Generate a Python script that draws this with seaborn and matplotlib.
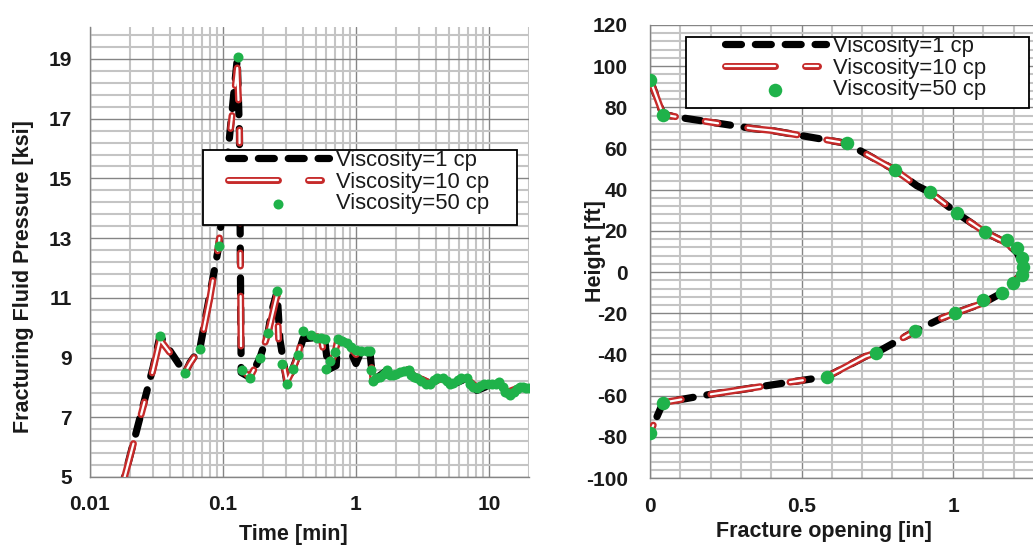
import numpy as np
import pandas as pd
import seaborn as sns
import matplotlib
matplotlib.use("Agg")
import matplotlib.pyplot as plt
import matplotlib.patheffects as pe
from matplotlib.patches import Rectangle
from matplotlib.ticker import FixedLocator, FixedFormatter, LogLocator, NullFormatter

# ---------------- data: left panel (pressure vs time) ----------------
time_1cp = [0.017, 0.0298, 0.0336, 0.0518, 0.0565, 0.067, 0.0798, 0.093, 0.113, 0.128,
            0.133, 0.137, 0.16, 0.19, 0.218, 0.233, 0.255, 0.268, 0.303, 0.335, 0.366,
            0.40, 0.51, 0.58, 0.62, 0.71, 0.73, 0.85, 1.0, 1.1, 1.27, 1.34, 1.71, 1.9,
            2.5, 2.7, 3.6, 4.5, 5.3, 6.8, 8.1, 10.5, 12.3, 13.9, 17.0, 20.0]
press_1cp = [4.5, 8.67, 9.73, 8.47, 8.83, 9.3, 11.13, 12.73, 16.57, 19.0,
             16.5, 8.5, 8.33, 9.0, 9.83, 10.57, 11.2, 9.6, 8.13, 8.63, 9.07,
             9.63, 9.67, 9.63, 8.6, 8.73, 9.63, 9.5, 8.8, 9.23, 9.23, 8.23, 8.57, 8.4,
             8.6, 8.4, 8.13, 8.33, 8.1, 8.3, 7.9, 8.1, 8.1, 7.8, 8.0, 7.97]

time_10cp = [0.017, 0.0298, 0.0336, 0.0518, 0.0565, 0.067, 0.0798, 0.093, 0.113, 0.128,
             0.133, 0.137, 0.16, 0.19, 0.218, 0.24, 0.255, 0.262, 0.303, 0.335, 0.366,
             0.40, 0.51, 0.55, 0.60, 0.69, 0.73, 0.85, 1.0, 1.1, 1.27, 1.34, 1.71, 1.9,
             2.5, 2.7, 3.6, 4.5, 5.3, 6.8, 8.1, 10.5, 12.3, 13.9, 17.0, 20.0]
press_10cp = [4.5, 8.6, 9.6, 8.5, 8.8, 9.3, 11.0, 12.8, 16.5, 18.7,
              16.8, 8.6, 8.35, 9.0, 9.8, 10.6, 11.1, 9.6, 8.2, 8.6, 9.05,
              9.85, 9.7, 9.6, 8.6, 9.1, 9.6, 9.5, 9.1, 9.2, 9.2, 8.3, 8.55, 8.4,
              8.6, 8.4, 8.15, 8.3, 8.1, 8.3, 8.0, 8.1, 8.1, 7.85, 8.0, 7.97]

time_50cp = [0.0336, 0.0518, 0.067, 0.093, 0.13, 0.14, 0.16, 0.19, 0.218, 0.255, 0.277,
             0.303, 0.335, 0.366, 0.40, 0.46, 0.51, 0.55, 0.58, 0.60, 0.64, 0.69, 0.73,
             0.78, 0.85, 0.92, 1.0, 1.1, 1.2, 1.27, 1.30, 1.34, 1.42, 1.52, 1.62, 1.71,
             1.8, 1.9, 2.0, 2.15, 2.3, 2.5, 2.6, 2.75, 2.9, 3.1, 3.35, 3.6, 3.85, 4.1,
             4.5, 4.8, 5.1, 5.4, 5.8, 6.2, 6.8, 7.2, 7.6, 8.1, 8.6, 9.2, 9.8, 10.5,
             11.2, 12.0, 12.7, 13.3, 13.9, 14.5, 15.3, 16.2, 17.0, 18.0, 19.0, 20.0]
press_50cp = [9.73, 8.47, 9.3, 12.73, 19.07, 8.57, 8.33, 9.0, 9.83, 11.23, 8.8,
              8.13, 8.63, 9.07, 9.9, 9.75, 9.67, 9.65, 9.63, 8.63, 8.9, 9.17, 9.63,
              9.55, 9.5, 9.35, 9.25, 9.23, 9.23, 9.23, 8.6, 8.23, 8.3, 8.35, 8.45, 8.57,
              8.4, 8.4, 8.45, 8.5, 8.55, 8.6, 8.4, 8.35, 8.3, 8.2, 8.13, 8.13, 8.25, 8.3,
              8.33, 8.2, 8.1, 8.15, 8.25, 8.3, 8.3, 8.1, 8.0, 7.97, 8.05, 8.1, 8.1, 8.1,
              8.1, 8.17, 8.0, 7.85, 7.8, 7.75, 7.85, 7.95, 8.0, 8.0, 7.97, 7.97]

time_ticks = [0.01, 0.1, 1, 10]
time_tick_labels = ["0.01", "0.1", "1", "10"]
press_ticks = [5, 7, 9, 11, 13, 15, 17, 19]
press_tick_labels = ["5", "7", "9", "11", "13", "15", "17", "19"]

# ---------------- data: right panel (height vs opening) ----------------
open_1cp = [0.0, 0.043, 0.12, 0.34, 0.40, 0.65, 0.81, 0.88, 0.924, 1.013, 1.105, 1.178,
            1.21, 1.228, 1.228, 1.198, 1.16, 1.1, 1.007, 0.964, 0.875, 0.746, 0.71,
            0.584, 0.45, 0.19, 0.043, 0.0]
height_1cp = [93.5, 76.5, 74.6, 69.7, 68.8, 62.5, 49.4, 42.0, 38.7, 28.6, 19.4, 14.0,
              9.7, 4.4, -0.5, -5.3, -10.2, -15.0, -19.9, -22.3, -28.6, -39.2, -41.0,
              -50.8, -53.7, -59.6, -63.4, -78.0]
open_10cp = list(open_1cp)
height_10cp = list(height_1cp)
open_50cp = [0.0, 0.043, 0.65, 0.81, 0.924, 1.013, 1.105, 1.178, 1.21, 1.228, 1.231,
             1.228, 1.198, 1.16, 1.1, 1.007, 0.875, 0.746, 0.584, 0.043, 0.0]
height_50cp = [93.5, 76.5, 62.5, 49.4, 38.7, 28.6, 19.4, 15.5, 11.6, 6.8, 2.4,
               -1.5, -5.3, -10.2, -13.6, -19.9, -28.6, -39.2, -50.8, -63.4, -78.0]

open_ticks = [0, 0.5, 1]
open_tick_labels = ["0", "0.5", "1"]
height_ticks = [-100, -80, -60, -40, -20, 0, 20, 40, 60, 80, 100, 120]
height_tick_labels = [str(v) for v in height_ticks]

labels = ["Viscosity=1 cp", "Viscosity=10 cp", "Viscosity=50 cp"]

# ---------------- style ----------------
sns.set_style("white")
plt.rcParams["font.family"] = ["Liberation Sans", "DejaVu Sans"]
plt.rcParams["lines.scale_dashes"] = False

BLACK = "#000000"
RED = "#c62a2a"
GREEN = "#1fb24a"
MINOR_GRID = "#c4c4c4"
MAJOR_GRID = "#858585"
TEXT = "#1a1a1a"

W, H = 1033, 547
fig = plt.figure(figsize=(W / 100, H / 100), dpi=100)
fig.patch.set_facecolor("white")

axL = fig.add_axes([90 / W, (H - 477) / H, 439 / W, 450 / H])
axR = fig.add_axes([650 / W, (H - 478) / H, 394 / W, 453 / H])


def draw_series(ax, xb, yb, xr, yr, xg, yg, msize):
    df_b = pd.DataFrame({"x": xb, "y": yb})
    df_r = pd.DataFrame({"x": xr, "y": yr})
    df_g = pd.DataFrame({"x": xg, "y": yg})
    n0 = len(ax.lines)
    sns.lineplot(data=df_b, x="x", y="y", ax=ax, sort=False, estimator=None,
                 color=BLACK, lw=5.2, zorder=3)
    lb = ax.lines[n0]
    lb.set_dashes([11.5, 10])
    lb.set_dash_capstyle("round")
    n1 = len(ax.lines)
    sns.lineplot(data=df_r, x="x", y="y", ax=ax, sort=False, estimator=None,
                 color="white", lw=1.6, zorder=3.5)
    lr = ax.lines[n1]
    lr.set_dashes([36, 21.6, 9.4, 21.6])
    lr.set_dash_capstyle("round")
    lr.set_path_effects([pe.Stroke(linewidth=5, foreground=RED), pe.Normal()])
    sns.scatterplot(data=df_g, x="x", y="y", ax=ax, color=GREEN, s=msize,
                    linewidth=0, zorder=4)
    sc = ax.collections[-1]
    return lb, lr, sc


def frame_and_grid(ax):
    ax.set_axisbelow(True)
    ax.grid(which="minor", color=MINOR_GRID, lw=1.5)
    ax.grid(which="major", color=MAJOR_GRID, lw=1.0)
    for s in ["top", "right"]:
        ax.spines[s].set_visible(False)
    for s in ["left", "bottom"]:
        ax.spines[s].set_color(MAJOR_GRID)
        ax.spines[s].set_linewidth(1.0)
    ax.tick_params(which="major", length=6, width=1, color=MAJOR_GRID,
                   labelsize=15, labelcolor=TEXT)
    ax.tick_params(which="minor", length=0)
    for t in ax.get_xticklabels() + ax.get_yticklabels():
        t.set_fontweight("bold")


# ---------- left panel ----------
axL.set_xscale("log")
lb, lr, sc = draw_series(axL, time_1cp, press_1cp, time_10cp, press_10cp,
                         time_50cp, press_50cp, 52)
axL.set_xlim(0.01, 20)
axL.set_ylim(5, 20.07)
axL.xaxis.set_major_locator(FixedLocator(time_ticks))
axL.xaxis.set_major_formatter(FixedFormatter(time_tick_labels))
axL.xaxis.set_minor_locator(LogLocator(base=10, subs=np.arange(2, 10)))
axL.xaxis.set_minor_formatter(NullFormatter())
axL.yaxis.set_major_locator(FixedLocator(press_ticks))
axL.yaxis.set_major_formatter(FixedFormatter(press_tick_labels))
axL.yaxis.set_minor_locator(FixedLocator(np.arange(5, 20.1, 0.4)))
frame_and_grid(axL)
axL.tick_params(axis="y", pad=7)
axL.tick_params(axis="x", pad=7)
axL.set_xlabel("Time [min]", fontsize=15.5, fontweight="bold", color=TEXT)
axL.set_ylabel("Fracturing Fluid Pressure [ksi]", fontsize=15.5, fontweight="bold",
               color=TEXT)
axL.xaxis.set_label_coords((293 - 90) / 439, (477 - 524) / 450)
axL.yaxis.set_label_coords((34 - 90) / 439, (477 - 277) / 450)

axL.add_patch(Rectangle((203 / W, 1 - 225 / H), 314 / W, 75 / H, transform=fig.transFigure,
                        facecolor="white", edgecolor="black", lw=1.3, clip_on=False,
                        zorder=4.6))
legL = axL.legend([lb, lr, sc], labels, loc="upper left",
                  bbox_to_anchor=(228 / W, 1 - 150 / H), bbox_transform=fig.transFigure,
                  frameon=False, fontsize=15.8, handlelength=4.6, handletextpad=0.3,
                  borderpad=0, borderaxespad=0, labelspacing=0.03, scatterpoints=1,
                  labelcolor=TEXT)
legL.set_zorder(5)

# ---------- right panel ----------
lb2, lr2, sc2 = draw_series(axR, open_1cp, height_1cp, open_10cp, height_10cp,
                            open_50cp, height_50cp, 95)
axR.set_xlim(0, 1.3)
axR.set_ylim(-100, 120)
axR.xaxis.set_major_locator(FixedLocator(open_ticks))
axR.xaxis.set_major_formatter(FixedFormatter(open_tick_labels))
axR.xaxis.set_minor_locator(FixedLocator(np.arange(0, 1.31, 0.1)))
axR.yaxis.set_major_locator(FixedLocator(height_ticks))
axR.yaxis.set_major_formatter(FixedFormatter(height_tick_labels))
axR.yaxis.set_minor_locator(FixedLocator(np.arange(-100, 121, 4)))
frame_and_grid(axR)
axR.tick_params(axis="y", pad=10)
axR.tick_params(axis="x", pad=8)
axR.set_xlabel("Fracture opening [in]", fontsize=15.5, fontweight="bold", color=TEXT)
axR.set_ylabel("Height [ft]", fontsize=15.5, fontweight="bold", color=TEXT)
axR.xaxis.set_label_coords((824 - 650) / 394, (478 - 521) / 453)
axR.yaxis.set_label_coords((606 - 650) / 394, (478 - 251) / 453)

axR.add_patch(Rectangle((686 / W, 1 - 108 / H), 343 / W, 71 / H, transform=fig.transFigure,
                        facecolor="white", edgecolor="black", lw=1.3, clip_on=False,
                        zorder=4.6))
legR = axR.legend([lb2, lr2, sc2], labels, loc="upper left",
                  bbox_to_anchor=(725 / W, 1 - 36 / H), bbox_transform=fig.transFigure,
                  frameon=False, fontsize=15.8, handlelength=4.6, handletextpad=0.3,
                  borderpad=0, borderaxespad=0, labelspacing=0.03, scatterpoints=1,
                  labelcolor=TEXT)
legR.set_zorder(5)

fig.savefig("out.png", dpi=100, facecolor="white")
